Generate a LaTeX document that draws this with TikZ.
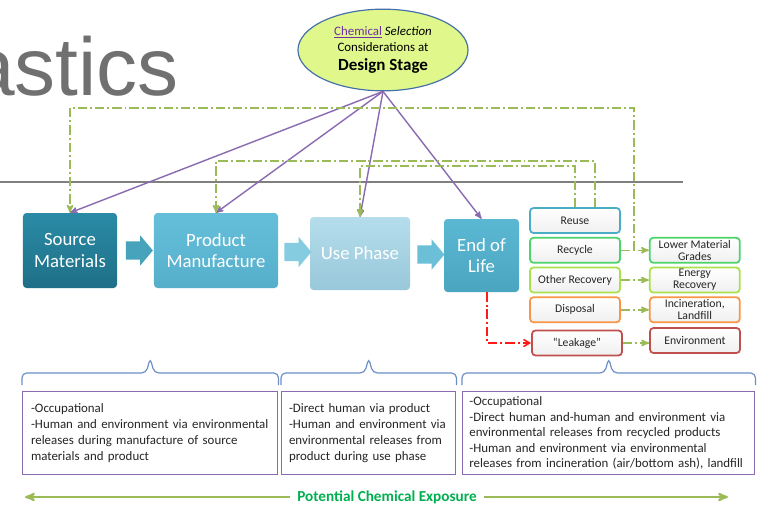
\documentclass[tikz,border=0pt]{standalone}
\usepackage{fontspec}
\setmainfont{Carlito}
\newfontfamily\titlefont{Liberation Sans}
\usepackage{tikz}
\usetikzlibrary{shapes.geometric,shapes.arrows,arrows,positioning,calc}
\definecolor{titlegrey}{HTML}{707070}
\definecolor{rulegrey}{HTML}{808080}
\definecolor{textgrey}{HTML}{262626}
\definecolor{designfill}{HTML}{E0F78C}
\definecolor{designline}{HTML}{4470A8}
\definecolor{chempurple}{HTML}{7030A0}
\definecolor{purpleline}{HTML}{8A6BB0}
\definecolor{greenline}{HTML}{9BBB59}
\definecolor{exposuregreen}{HTML}{00B050}
\definecolor{bracketblue}{HTML}{6C8EC6}
\definecolor{leakred}{HTML}{FF1A1A}
\definecolor{sourcetop}{HTML}{2A8BA6}
\definecolor{sourcebottom}{HTML}{1F6F87}
\definecolor{manutop}{HTML}{66BFDA}
\definecolor{manubottom}{HTML}{55AFCB}
\definecolor{usetop}{HTML}{B5DDEC}
\definecolor{usebottom}{HTML}{98C8DA}
\definecolor{eoltop}{HTML}{5BB8D3}
\definecolor{eolbottom}{HTML}{4AA5C0}
\definecolor{reuseblue}{HTML}{4BACC6}
\definecolor{recyclegreen}{HTML}{4CD46A}
\definecolor{recoverylime}{HTML}{A8E24A}
\definecolor{disposalorange}{HTML}{F79646}
\definecolor{leakborder}{HTML}{C0504D}
\tikzset
{
    stagenode/.style   = {rounded corners=3pt, align=center, text=white, inner sep=0pt, font=\fontsize{16}{18}\selectfont},
    flowarrow/.style   = {single arrow, single arrow head extend=0.18cm, single arrow tip angle=100, minimum height=0.81cm, inner xsep=0pt, inner ysep=0.27cm},
    optionnode/.style  = {draw, line width=1.5pt, rounded corners=3pt, top color=white, bottom color=black!6, align=center, minimum width=2.7cm, minimum height=0.75cm, inner sep=0pt, text=textgrey, font=\fontsize{10}{10.5}\selectfont},
    influence/.style   = {draw=purpleline, line width=1.2pt, ->},
    feedback/.style    = {draw=greenline, line width=1.3pt, dash pattern=on 8pt off 2.5pt on 1.7pt off 2.5pt, ->},
    leakline/.style    = {draw=leakred, line width=1.3pt, dash pattern=on 8pt off 2.5pt on 1.7pt off 2.5pt, ->, >=angle 60},
    exposurebox/.style = {draw=purpleline, line width=1.2pt, anchor=north west, align=left, minimum height=2.49cm, inner xsep=0.25cm, text=textgrey, font=\fontsize{11}{13.6}\selectfont},
    bracket/.style     = {draw=bracketblue, line width=1pt, rounded corners=4pt},
    spanline/.style    = {draw=greenline, line width=1.8pt, ->}
}
\begin{document}
\begin{tikzpicture}[x=0.03cm, y=-0.03cm, >=stealth']
    \useasboundingbox (0,0) rectangle (757,504);
    \fill [white] (0,0) rectangle (757,504);
    \clip (0,0) rectangle (757,504);
    \node [anchor=base east, inner sep=0pt, text=titlegrey, font=\titlefont\fontsize{70}{74}\selectfont] (title) at (179,95) {astics};
    \coordinate (ruleleft) at (0,182);
    \coordinate (ruleright) at (683,182);
    \draw [rulegrey, line width=1.5pt] (ruleleft) -- (ruleright);

    \node [ellipse, draw=designline, line width=1pt, fill=designfill, minimum width=5.1cm, minimum height=2.45cm, align=center, text=black, font=\fontsize{11}{13.6}\selectfont] (design) at (383,50)
        {\textcolor{chempurple}{\underline{Chemical}} \textit{Selection}\\Considerations at\\[2pt]{\fontsize{14.5}{17}\selectfont\bfseries Design Stage}};

    \node [stagenode, minimum width=2.82cm, minimum height=2.25cm, top color=sourcetop, bottom color=sourcebottom] (source) at (70,250.5) {Source\\Materials};
    \node [stagenode, minimum width=3.72cm, minimum height=2.25cm, top color=manutop, bottom color=manubottom] (manufacture) at (216,250.5) {Product\\Manufacture};
    \node [stagenode, minimum width=3.0cm, minimum height=2.19cm, top color=usetop, bottom color=usebottom] (usephase) at (360,253.5) {Use Phase};
    \node [stagenode, minimum width=2.25cm, minimum height=2.19cm, top color=eoltop, bottom color=eolbottom] (endoflife) at (481.5,255.5) {End of\\Life};

    \node [flowarrow, fill=reuseblue!95!black] (flow1) at ($(source.east)!0.5!(manufacture.west)$) {};
    \node [flowarrow, fill=manutop!80!white] (flow2) at ($(manufacture.east)!0.5!(usephase.west)$) {};
    \node [flowarrow, fill=eoltop!90!white] (flow3) at ($(usephase.east)!0.5!(endoflife.west)$) {};

    \node [optionnode, draw=reuseblue] (reuse) at (575,220.5) {Reuse};
    \node [optionnode, draw=recyclegreen, below=0.09cm of reuse] (recycle) {Recycle};
    \node [optionnode, draw=recoverylime, below=0.09cm of recycle] (otherrecovery) {Other Recovery};
    \node [optionnode, draw=disposalorange, below=0.09cm of otherrecovery] (disposal) {Disposal};
    \node [optionnode, draw=leakborder] (leakage) at (577,343) {``Leakage''};

    \node [optionnode, draw=recyclegreen, right=0.84cm of recycle] (lowergrades) {Lower Material\\Grades};
    \node [optionnode, draw=recoverylime, right=0.84cm of otherrecovery] (energy) {Energy\\Recovery};
    \node [optionnode, draw=disposalorange, right=0.84cm of disposal] (incineration) {Incineration,\\Landfill};
    \node [optionnode, draw=leakborder] (environment) at (695,340.5) {Environment};

    \draw [influence] (design.south) -- (source.north);
    \draw [influence] (design.south) -- (manufacture.north);
    \draw [influence] (design.south) -- (usephase.north);
    \draw [influence] (design.south) -- (endoflife.north);

    \draw [feedback] (recycle) -- (lowergrades);
    \draw [feedback] (otherrecovery) -- (energy);
    \draw [feedback] (disposal) -- (incineration);
    \draw [feedback] (leakage.east) -- (leakage.east -| environment.west);

    \coordinate (branch) at ($(recycle.east)!0.46!(lowergrades.west)$);
    \coordinate (outerrun) at (0,108);
    \coordinate (upperrun) at (0,161);
    \coordinate (lowerrun) at (0,166);
    \draw [feedback] (branch) -- (branch |- outerrun) -| (source.north);
    \draw [feedback] ([xshift=0.6cm]reuse.north) -- ([xshift=0.6cm]reuse.north |- upperrun) -| (manufacture.north);
    \draw [feedback] (reuse.north) -- (reuse.north |- lowerrun) -| (usephase.north);

    \draw [leakline] ([xshift=0.17cm]endoflife.south) |- (leakage.west);

    \node [exposurebox, minimum width=7.65cm, text width=7.15cm] (exposure1) at (22,391)
        {-Occupational\\-Human and environment via environmental\\releases during manufacture of source\\materials and product};
    \node [exposurebox, minimum width=5.22cm, text width=4.78cm, inner xsep=0.22cm] (exposure2) at (281,391)
        {-Direct human via product\\-Human and environment via\\environmental releases from\\product during use phase};
    \node [exposurebox, minimum width=8.76cm, text width=8.36cm, inner xsep=0.2cm, font=\fontsize{11}{13.2}\selectfont] (exposure3) at (462,391)
        {-Occupational\\-Direct human and-human and environment via\\environmental releases from recycled products\\-Human and environment via environmental\\releases from incineration (air/bottom ash), landfill};

    \draw [bracket] ([yshift=0.18cm]exposure1.north west) -- ([yshift=0.54cm]exposure1.north west) -- ([xshift=-0.12cm, yshift=0.54cm]exposure1.north) -- ([yshift=0.99cm]exposure1.north) -- ([xshift=0.12cm, yshift=0.54cm]exposure1.north) -- ([yshift=0.54cm]exposure1.north east) -- ([yshift=0.18cm]exposure1.north east);
    \draw [bracket] ([yshift=0.18cm]exposure2.north west) -- ([yshift=0.54cm]exposure2.north west) -- ([xshift=-0.12cm, yshift=0.54cm]exposure2.north) -- ([yshift=0.99cm]exposure2.north) -- ([xshift=0.12cm, yshift=0.54cm]exposure2.north) -- ([yshift=0.54cm]exposure2.north east) -- ([yshift=0.18cm]exposure2.north east);
    \draw [bracket] ([yshift=0.18cm]exposure3.north west) -- ([yshift=0.54cm]exposure3.north west) -- ([xshift=-0.12cm, yshift=0.54cm]exposure3.north) -- ([yshift=0.99cm]exposure3.north) -- ([xshift=0.12cm, yshift=0.54cm]exposure3.north) -- ([yshift=0.54cm]exposure3.north east) -- ([yshift=0.18cm]exposure3.north east);

    \node [inner xsep=0.22cm, text=exposuregreen, font=\fontsize{13}{15}\selectfont\bfseries] (potential) at (387,497) {Potential Chemical Exposure};
    \coordinate (spanleft) at (25,497);
    \coordinate (spanright) at (728,497);
    \draw [spanline] (potential.west) -- (spanleft);
    \draw [spanline] (potential.east) -- (spanright);
\end{tikzpicture}
\end{document}
